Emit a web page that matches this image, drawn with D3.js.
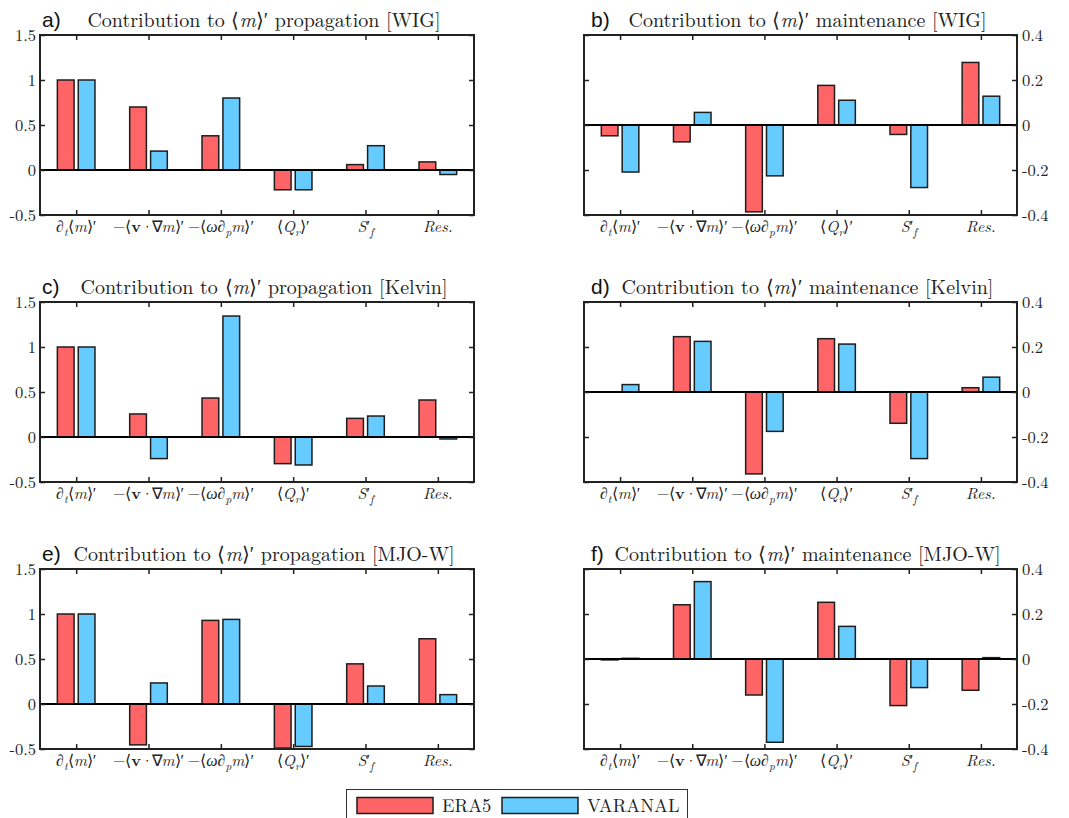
<!DOCTYPE html>
<html>
<head>
<meta charset="utf-8">
<script src="https://cdn.jsdelivr.net/npm/d3@7"></script>
<style>
  html, body { margin: 0; padding: 0; background: #fff; }
  svg { display: block; }
</style>
</head>
<body>
<svg id="chart" width="1069" height="818"></svg>
<script>
// Budget terms shown along the x axis of every panel
const terms = ["dt", "hadv", "vadv", "Qr", "Sf", "Res"];
const termLabels = [
  [["∂", "r"], ["t", "sub"], ["⟨", "r"], ["m", "i"], ["⟩′", "r"]],
  [["−⟨", "r"], ["v", "b"], ["·∇", "tight"], ["m", "i"], ["⟩′", "r"]],
  [["−⟨", "r"], ["ω", "i"], ["∂", "r"], ["p", "sub"], ["m", "i"], ["⟩′", "r"]],
  [["⟨", "r"], ["Q", "i"], ["r", "sub"], ["⟩′", "r"]],
  [["S", "i"], ["′", "r"], ["f", "sub"]],
  [["Res.", "i"]]
];
const datasets = ["ERA5", "VARANAL"];

// Normalised contributions to propagation / maintenance
const era5PropWIG       = [1, 0.70, 0.38, -0.22, 0.06, 0.09];
const varanalPropWIG    = [1, 0.21, 0.80, -0.22, 0.27, -0.05];
const era5MaintWIG      = [-0.048, -0.075, -0.386, 0.176, -0.042, 0.278];
const varanalMaintWIG   = [-0.209, 0.056, -0.226, 0.110, -0.278, 0.128];
const era5PropKelvin    = [1, 0.256, 0.433, -0.296, 0.207, 0.411];
const varanalPropKelvin = [1, -0.24, 1.344, -0.311, 0.233, -0.022];
const era5MaintKelvin   = [0.001, 0.246, -0.364, 0.237, -0.139, 0.019];
const varanalMaintKelvin= [0.033, 0.225, -0.175, 0.213, -0.296, 0.066];
const era5PropMJO       = [1, -0.454, 0.929, -0.49, 0.446, 0.725];
const varanalPropMJO    = [1, 0.234, 0.94, -0.472, 0.20, 0.104];
const era5MaintMJO      = [-0.004, 0.241, -0.16, 0.252, -0.207, -0.139];
const varanalMaintMJO   = [0.003, 0.344, -0.370, 0.145, -0.127, 0.006];

const propDomain = [-0.5, 1.5];
const propTicks = [-0.5, 0, 0.5, 1, 1.5];
const maintDomain = [-0.4, 0.4];
const maintTicks = [-0.4, -0.2, 0, 0.2, 0.4];

const panelLetters = ["a)", "b)", "c)", "d)", "e)", "f)"];
const waveNames = ["WIG", "Kelvin", "MJO-W"];
const budgetKinds = ["propagation", "maintenance"];

const colors = { ERA5: "#ff6466", VARANAL: "#66ccff" };
const edge = "#1e1e1e";
const SERIF = "'Latin Modern Roman', 'CMU Serif', 'Liberation Serif', serif";
const SANS = "'Liberation Sans', 'DejaVu Sans', sans-serif";

const panels = [
  { era5: era5PropWIG, varanal: varanalPropWIG },
  { era5: era5MaintWIG, varanal: varanalMaintWIG },
  { era5: era5PropKelvin, varanal: varanalPropKelvin },
  { era5: era5MaintKelvin, varanal: varanalMaintKelvin },
  { era5: era5PropMJO, varanal: varanalPropMJO },
  { era5: era5MaintMJO, varanal: varanalMaintMJO }
];

const colX = [[40, 474], [584, 1017]];
const rowTop = [35, 302, 569];
const boxH = 180;

const svg = d3.select("#chart");

// Writes a sequence of styled segments (roman, italic, bold, subscript) into a text node
function richText(sel, segs, size) {
  let shift = 0;
  segs.forEach(([txt, st]) => {
    const want = st === "sub" ? size * 0.25 : 0;
    const t = sel.append("tspan").text(txt).attr("dy", want - shift);
    shift = want;
    if (st === "i" || st === "sub") t.style("font-style", "italic");
    if (st === "b") t.style("font-weight", "bold");
    if (st === "sub") t.style("font-size", (size * 0.72) + "px");
    if (st === "tight") t.style("letter-spacing", "-1.5px");
  });
}

panels.forEach((p, i) => {
  const row = Math.floor(i / 2), col = i % 2;
  const [x0, x1] = colX[col];
  const top = rowTop[row], bottom = top + boxH;
  const isProp = col === 0;
  const domain = isProp ? propDomain : maintDomain;
  const ticks = isProp ? propTicks : maintTicks;

  const x = d3.scaleBand().domain(terms).range([x0, x1]);
  const bw = x.bandwidth();
  const xs = d3.scaleBand().domain(datasets)
    .range([-bw * 0.26, bw * 0.26]).paddingInner(0.2);
  const y = d3.scaleLinear().domain(domain).range([bottom, top]);

  const g = svg.append("g");

  // Bars
  const groups = g.selectAll("g.term").data(terms).join("g")
    .attr("transform", d => `translate(${x(d) + bw / 2},0)`);
  groups.selectAll("rect").data((d, k) => [
      { set: "ERA5", v: p.era5[k] }, { set: "VARANAL", v: p.varanal[k] }])
    .join("rect")
    .attr("x", d => xs(d.set))
    .attr("width", xs.bandwidth())
    .attr("y", d => y(Math.max(0, d.v)))
    .attr("height", d => Math.abs(y(d.v) - y(0)))
    .attr("fill", d => colors[d.set])
    .attr("stroke", edge)
    .attr("stroke-width", 1.5);

  // Zero line
  g.append("line")
    .attr("x1", x0).attr("x2", x1)
    .attr("y1", y(0)).attr("y2", y(0))
    .attr("stroke", "#000").attr("stroke-width", 1.8);

  const fmt = d => (d === 0 ? "0" : String(d));
  const tickStyle = s => {
    s.select(".domain").remove();
    s.attr("font-family", null).attr("font-size", null);
    s.selectAll(".tick line").attr("stroke", "#222").attr("stroke-width", 1.5);
    s.selectAll(".tick text")
      .style("font-family", SERIF).style("font-size", "16.5px").attr("fill", "#222");
  };

  // y axes (inward ticks on both sides; labels on left or right)
  g.append("g").attr("transform", `translate(${x0},0)`)
    .call(d3.axisLeft(y).tickValues(ticks).tickSizeInner(-5).tickSizeOuter(0)
      .tickPadding(4).tickFormat(isProp ? fmt : () => ""))
    .call(tickStyle);
  g.append("g").attr("transform", `translate(${x1},0)`)
    .call(d3.axisRight(y).tickValues(ticks).tickSizeInner(-5).tickSizeOuter(0)
      .tickPadding(5).tickFormat(isProp ? () => "" : fmt))
    .call(tickStyle);

  // x axes (inward ticks top and bottom)
  const xc = d3.scalePoint().domain(terms).range([x0 + bw / 2, x1 - bw / 2]);
  g.append("g").attr("transform", `translate(0,${bottom})`)
    .call(d3.axisBottom(xc).tickSizeInner(-5).tickSizeOuter(0).tickFormat(() => ""))
    .call(tickStyle);
  g.append("g").attr("transform", `translate(0,${top})`)
    .call(d3.axisTop(xc).tickSizeInner(-5).tickSizeOuter(0).tickFormat(() => ""))
    .call(tickStyle);

  // Term labels under the axis
  terms.forEach((t, k) => {
    const lab = g.append("text")
      .style("font-family", SERIF).style("font-size", "16px")
      .attr("x", xc(t)).attr("y", bottom + 17)
      .attr("text-anchor", "middle").attr("fill", "#222");
    richText(lab, termLabels[k], 16);
  });

  // Frame
  g.append("rect").attr("x", x0).attr("y", top)
    .attr("width", x1 - x0).attr("height", boxH)
    .attr("fill", "none").attr("stroke", "#222").attr("stroke-width", 2);

  // Panel letter and title
  g.append("text").style("font-family", SANS).style("font-size", "21px")
    .attr("x", col === 0 ? 42 : 591).attr("y", top - 8)
    .attr("fill", "#111").text(panelLetters[i]);
  const title = g.append("text")
    .style("font-family", SERIF).style("font-size", "20px")
    .attr("x", (x0 + x1) / 2 + 7).attr("y", top - 8)
    .attr("text-anchor", "middle").attr("fill", "#222");
  richText(title, [["Contribution to ", "r"], ["⟨", "r"], ["m", "i"], ["⟩′", "r"],
    [` ${budgetKinds[col]} [${waveNames[row]}]`, "r"]], 20);
});

// Legend
const leg = svg.append("g");
leg.append("rect").attr("x", 346.5).attr("y", 789.5).attr("width", 341).attr("height", 40)
  .attr("fill", "#fff").attr("stroke", "#333").attr("stroke-width", 1);
const legX = d3.scaleOrdinal().domain(datasets).range([357, 502]);
datasets.forEach(ds => {
  leg.append("rect").attr("x", legX(ds)).attr("y", 797.5).attr("width", 76).attr("height", 16)
    .attr("fill", colors[ds]).attr("stroke", edge).attr("stroke-width", 1.5);
  leg.append("text").style("font-family", SERIF).style("font-size", "18.5px")
    .attr("x", legX(ds) + 85).attr("y", 812)
    .attr("fill", "#222").text(ds);
});
</script>
</body>
</html>
